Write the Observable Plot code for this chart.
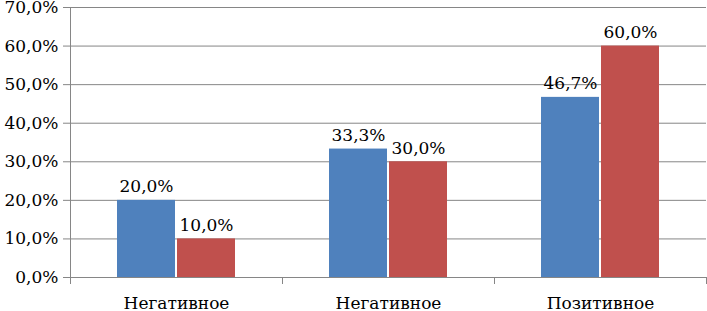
<!DOCTYPE html>
<html><head><meta charset="utf-8">
<script src="https://cdn.jsdelivr.net/npm/d3@7"></script>
<script src="https://cdn.jsdelivr.net/npm/@observablehq/plot@0.6"></script>
<style>
body{margin:0;background:#fff}
</style>
</head><body><div id="chart"></div>
<script>
const categories = ["Негативное", "Негативное", "Позитивное"];
const seriesNames = ["Ряд 1", "Ряд 2"];
const series1 = [20.0, 33.3, 46.7];
const series2 = [10.0, 30.0, 60.0];
const yTicks = [0, 10, 20, 30, 40, 50, 60, 70];
const colors = ["#4F81BD", "#C0504D"];

const data = [];
categories.forEach((c, i) => {
  data.push({cat: i, s: seriesNames[0], v: series1[i]});
  data.push({cat: i, s: seriesNames[1], v: series2[i]});
});
const fmt = v => v.toFixed(1).replace(".", ",") + "%";
const gray = "#868686";
const FONT = "DejaVu Serif";
const FS = 17;
const W = 707, H = 311, mL = 69, mR = 0, mT = 7, mB = 34;

const chart = Plot.plot({
  width: W,
  height: H,
  marginTop: mT,
  marginBottom: mB,
  marginLeft: mL,
  marginRight: mR,
  style: {fontFamily: FONT, fontSize: FS + "px", color: "#000", background: "#fff"},
  fx: {domain: [0, 1, 2], padding: 0, label: null},
  x: {domain: seriesNames, paddingInner: 0, paddingOuter: 0.743, axis: null},
  y: {domain: [0, 70], axis: null},
  color: {domain: seriesNames, range: colors},
  marks: [
    Plot.gridY(yTicks, {stroke: gray, strokeOpacity: 1}),
    Plot.axisY(yTicks, {tickSize: 7, tickPadding: 5, tickFormat: fmt, stroke: gray, fill: "#000", label: null, fontSize: FS, fontFamily: FONT}),
    Plot.barY(data, {fx: "cat", x: "s", y: "v", fill: "s", insetLeft: 1, insetRight: 1}),
    Plot.text(data, {fx: "cat", x: "s", y: "v", text: d => fmt(d.v), dy: -8, lineAnchor: "bottom", fontSize: FS, fontFamily: FONT, fill: "#000"}),
    Plot.axisFx({anchor: "bottom", tickSize: 0, tickPadding: 19, tickFormat: i => categories[i], label: null, fontSize: FS, fontFamily: FONT, fill: "#000"})
  ]
});

const fx = chart.scale("fx");
const ys = chart.scale("y");
const y0 = ys.apply(0), yTop = ys.apply(70);
const svg = d3.select(chart).attr("font-family", FONT);
const g = svg.append("g").attr("stroke", gray).attr("fill", "none");
const left = fx.apply(fx.domain[0]);
g.append("line").attr("x1", Math.round(left) + 0.5).attr("x2", Math.round(left) + 0.5)
  .attr("y1", yTop).attr("y2", y0 + 7);
const bounds = fx.domain.map(d => fx.apply(d)).concat([fx.apply(fx.domain[fx.domain.length - 1]) + fx.bandwidth]);
bounds.forEach(x => {
  const xx = Math.min(Math.round(x) + 0.5, W - 0.5);
  g.append("line").attr("x1", xx).attr("x2", xx).attr("y1", y0).attr("y2", y0 + 7);
});
document.getElementById("chart").appendChild(chart);
</script>
</body></html>
